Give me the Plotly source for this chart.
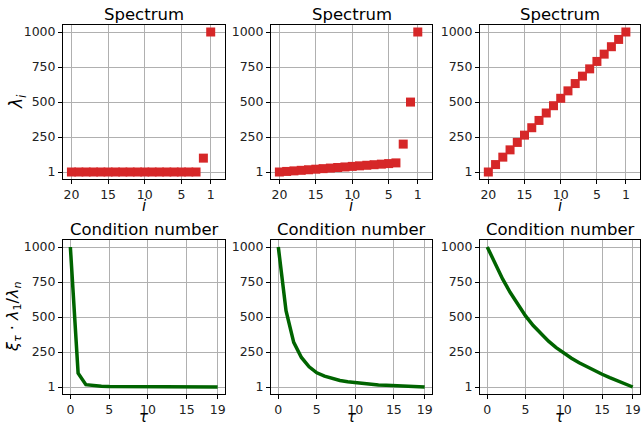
import plotly.graph_objects as go

# ---- data ----
idx = list(range(1, 21))  # eigenvalue index i
spec_a = [1000, 100] + [1] * 18
spec_b = [1000, 500, 200, 66, 61, 57, 53, 49, 45, 41, 37, 33, 29, 25, 21, 17, 13, 9, 5, 1]
spec_c = [1000, 947, 895, 842, 790, 737, 685, 632, 580, 527, 474, 422, 369, 317, 264, 212, 159, 107, 54, 1]

tau = list(range(20))
cond_a = [1000, 100, 18, 9, 6, 4, 3.5, 3, 2.7, 2.4, 2.2, 2, 1.8, 1.7, 1.5, 1.4, 1.3, 1.2, 1.1, 1]
cond_b = [1000, 545, 320, 212, 145, 102, 78, 60, 47, 38, 31, 25, 20, 16, 13, 10, 7, 5, 3, 1]
cond_c = [1000, 880, 772, 675, 588, 508, 440, 380, 328, 282, 242, 206, 174, 145, 118, 92, 68, 45, 23, 1]

y_ticks = [1, 250, 500, 750, 1000]
top_x_ticks = [20, 15, 10, 5, 1]
bot_x_ticks = [0, 5, 10, 15, 19]

W, H = 641, 425
FONT = "DejaVu Sans"
RED = "#d62728"
GREEN = "#006400"

# panel pixel boxes (left, right, top, bottom)
cols = [(63, 225), (271, 432), (480, 640)]
rows = [(25, 179), (240, 394)]

fig = go.Figure()

def px_x(v):
    return v / W

def px_y(v):
    return 1 - v / H

axis_common = dict(
    showline=True, linecolor="black", linewidth=1, mirror=True,
    showgrid=True, gridcolor="#b0b0b0", gridwidth=0.8,
    ticks="outside", ticklen=4, tickcolor="black", tickwidth=1,
    tickfont=dict(family=FONT, size=12.5, color="#222"),
    zeroline=False,
)

specs = [spec_a, spec_b, spec_c]
conds = [cond_a, cond_b, cond_c]

n = 0
for r in range(2):
    for c in range(3):
        n += 1
        xa = f"xaxis{'' if n == 1 else n}"
        ya = f"yaxis{'' if n == 1 else n}"
        xr = f"x{'' if n == 1 else n}"
        yr = f"y{'' if n == 1 else n}"
        l, rr = cols[c]
        t, b = rows[r]
        if r == 0:
            fig.add_trace(go.Scatter(
                x=idx, y=specs[c], mode="markers",
                marker=dict(symbol="square", size=9, color=RED, line=dict(width=0)),
                xaxis=xr, yaxis=yr, showlegend=False, cliponaxis=False))
            xcfg = dict(range=[21.15, -0.95], tickvals=top_x_ticks,
                        ticktext=[str(v) for v in top_x_ticks])
        else:
            fig.add_trace(go.Scatter(
                x=tau, y=conds[c], mode="lines",
                line=dict(color=GREEN, width=3.5),
                xaxis=xr, yaxis=yr, showlegend=False))
            xcfg = dict(range=[-0.95, 19.95], tickvals=bot_x_ticks,
                        ticktext=[str(v) for v in bot_x_ticks])
        fig.layout[xa] = dict(domain=[px_x(l), px_x(rr)], anchor=yr, **xcfg, **axis_common)
        fig.layout[ya] = dict(domain=[px_y(b), px_y(t)], anchor=xr,
                              range=[-48.95, 1049.95], tickvals=y_ticks,
                              ticktext=[str(v) for v in y_ticks], **axis_common)
        # panel title
        fig.add_annotation(
            text="Spectrum" if r == 0 else "Condition number",
            x=px_x((l + rr) / 2), y=px_y(t), xref="paper", yref="paper",
            xanchor="center", yanchor="bottom", yshift=-1, showarrow=False,
            font=dict(family=FONT, size=16.5, color="black"))
        # x label
        fig.add_annotation(
            text="<i>i</i>" if r == 0 else "<i>τ</i>",
            x=px_x((l + rr) / 2), y=px_y(b + (27 if r == 0 else 23)),
            xref="paper", yref="paper",
            xanchor="center", yanchor="middle", showarrow=False,
            font=dict(family=FONT, size=15, color="black"))

# y labels
fig.add_annotation(
    text="<i>λ<sub>i</sub></i>", x=px_x(17), y=px_y(102), xref="paper", yref="paper",
    xanchor="center", yanchor="middle", textangle=-90, showarrow=False,
    font=dict(family=FONT, size=17, color="black"))
fig.add_annotation(
    text="<i>ξ<sub>τ</sub></i> · <i>λ</i><sub>1</sub>/<i>λ<sub>n</sub></i>",
    x=px_x(13), y=px_y(317), xref="paper", yref="paper",
    xanchor="center", yanchor="middle", textangle=-90, showarrow=False,
    font=dict(family=FONT, size=16, color="black"))

fig.update_layout(
    width=W, height=H, margin=dict(l=0, r=0, t=0, b=0),
    paper_bgcolor="white", plot_bgcolor="white",
    font=dict(family=FONT),
)

fig.write_html("out.html", config={"displayModeBar": False},
               post_script="document.body.style.margin='0';")
